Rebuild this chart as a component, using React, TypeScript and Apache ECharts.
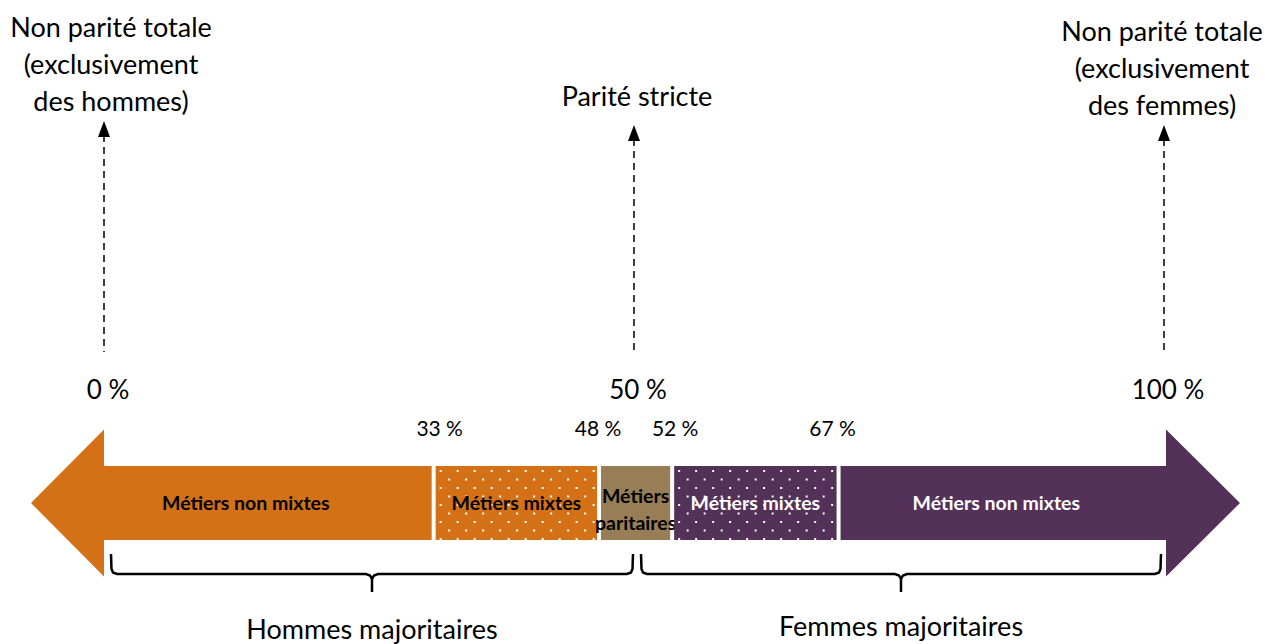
import React, { useEffect, useRef } from "react";
import * as echarts from "echarts";

// Segment labels, drawn edges (in % of the 0–100 scale), colours
const categories = ["Métiers non mixtes", "Métiers mixtes", "Métiers\nparitaires", "Métiers mixtes", "Métiers non mixtes"];
const segmentBounds = [0, 31.1, 46.7, 53.6, 69.3, 100];
const segmentColors = ["#D47116", "#D47116", "#977E57", "#533158", "#533158"];
const segmentDotted = [false, true, false, true, false];
const labelColors = ["#000000", "#000000", "#000000", "#ffffff", "#ffffff"];

// Threshold labels above the bar (placed on the inner edges)
const thresholdLabels = ["33 %", "48 %", "52 %", "67 %"];

// Reference marks
const refTicks = [0, 50, 100];
const refTickLabels = ["0 %", "50 %", "100 %"];
const refTitles = [
  "Non parité totale\n(exclusivement\ndes hommes)",
  "Parité stricte",
  "Non parité totale\n(exclusivement\ndes femmes)",
];

// Braces
const groupNames = ["Hommes majoritaires", "Femmes majoritaires"];
const groupStart = [0, 50];
const groupEnd = [50, 100];

const FONT = "Lato";

export default function App() {
  const ref = useRef<HTMLDivElement>(null);
  useEffect(() => {
    if (!ref.current) return;
    const chart = echarts.init(ref.current, undefined, { renderer: "svg" });
    const midY = 503;
    const shaftH = 37;
    const headH = 73.5;

    const segData = categories.map((_, i) => [segmentBounds[i], segmentBounds[i + 1]]);
    const labelDx = [-22, 0, 0, 0, -6];
    const thresholdDx = [6, -1, 3, -6];

    const option: any = {
      animation: false,
      grid: { left: 104, right: 104, top: 0, bottom: 0 },
      xAxis: { type: "value", min: 0, max: 100, show: false },
      yAxis: { type: "value", min: 0, max: 1, show: false },
      series: [
        {
          type: "custom",
          name: "segments",
          data: segData,
          encode: { x: [0, 1] },
          renderItem: (params: any, api: any) => {
            const i = params.dataIndex;
            const n = categories.length;
            const gap = 2;
            let x0 = api.coord([api.value(0), 0])[0];
            let x1 = api.coord([api.value(1), 0])[0];
            const children: any[] = [];
            const y0 = midY - shaftH;
            const y1 = midY + shaftH;
            if (i === 0) {
              x1 -= gap;
              children.push({
                type: "polygon",
                shape: {
                  points: [
                    [x1, y0], [x0, y0], [x0, midY - headH], [x0 - 73, midY],
                    [x0, midY + headH], [x0, y1], [x1, y1],
                  ],
                },
                style: { fill: segmentColors[i] },
              });
            } else if (i === n - 1) {
              x0 += gap;
              children.push({
                type: "polygon",
                shape: {
                  points: [
                    [x0, y0], [x1 + 2, y0], [x1 + 2, midY - headH], [x1 + 76, midY],
                    [x1 + 2, midY + headH], [x1 + 2, y1], [x0, y1],
                  ],
                },
                style: { fill: segmentColors[i] },
              });
            } else {
              x0 += gap;
              x1 -= gap;
              children.push({
                type: "rect",
                shape: { x: x0, y: y0, width: x1 - x0, height: y1 - y0 },
                style: { fill: segmentColors[i] },
              });
              if (segmentDotted[i]) {
                let row = 0;
                for (let yy = y0 + 4; yy < y1 - 1; yy += 8.5) {
                  const off = row % 2 === 0 ? 4 : 12.5;
                  for (let xx = x0 + off; xx < x1 - 1; xx += 17) {
                    children.push({
                      type: "rect",
                      shape: { x: xx, y: yy, width: 2, height: 2 },
                      style: { fill: "#ffffff" },
                    });
                  }
                  row++;
                }
              }
            }
            const cx = (x0 + x1) / 2 + labelDx[i];
            const twoLine = categories[i].indexOf("\n") >= 0;
            children.push({
              type: "text",
              x: cx,
              y: twoLine ? 509 : 502,
              style: {
                text: categories[i],
                fill: labelColors[i],
                font: `bold 19.5px ${FONT}`,
                align: "center",
                verticalAlign: "middle",
                lineHeight: 27,
              },
            });
            return { type: "group", children };
          },
        },
        {
          type: "custom",
          name: "thresholds",
          data: thresholdLabels.map((_, i) => [segmentBounds[i + 1]]),
          encode: { x: 0 },
          renderItem: (params: any, api: any) => {
            const x = api.coord([api.value(0), 0])[0];
            return {
              type: "text",
              x: x + thresholdDx[params.dataIndex],
              y: 427,
              style: {
                text: thresholdLabels[params.dataIndex],
                fill: "#000",
                font: `21px ${FONT}`,
                align: "center",
                verticalAlign: "middle",
              },
            };
          },
        },
        {
          type: "custom",
          name: "refs",
          data: refTicks.map((v) => [v]),
          encode: { x: 0 },
          renderItem: (params: any, api: any) => {
            const i = params.dataIndex;
            const x = api.coord([api.value(0), 0])[0];
            const tipY = i === 0 ? 121 : 125;
            const lastLineCenter = [100, 95, 104][i];
            const nLines = refTitles[i].split("\n").length;
            const lh = 37;
            const centerY = lastLineCenter - ((nLines - 1) * lh) / 2;
            const tx = [x + 7, x + 3, x - 2][i];
            return {
              type: "group",
              children: [
                {
                  type: "line",
                  shape: { x1: x, y1: tipY + 14, x2: x, y2: 352 },
                  style: { stroke: "#000", lineWidth: 1.5, lineDash: [7, 5] },
                },
                {
                  type: "polygon",
                  shape: { points: [[x, tipY], [x - 6, tipY + 16], [x + 6, tipY + 16]] },
                  style: { fill: "#000" },
                },
                {
                  type: "text",
                  x: x + 4,
                  y: 389,
                  style: {
                    text: refTickLabels[i],
                    fill: "#000",
                    font: `26px ${FONT}`,
                    align: "center",
                    verticalAlign: "middle",
                  },
                },
                {
                  type: "text",
                  x: tx,
                  y: centerY,
                  style: {
                    text: refTitles[i],
                    fill: "#000",
                    font: `27px ${FONT}`,
                    align: "center",
                    verticalAlign: "middle",
                    lineHeight: lh,
                  },
                },
              ],
            };
          },
        },
        {
          type: "custom",
          name: "braces",
          data: groupNames.map((_, i) => [groupStart[i], groupEnd[i]]),
          encode: { x: [0, 1] },
          renderItem: (params: any, api: any) => {
            const i = params.dataIndex;
            const a = api.coord([api.value(0), 0])[0] + 7;
            const b = api.coord([api.value(1), 0])[0] - (i === 0 ? 1 : 3);
            const m = (a + b) / 2;
            const top = 554;
            const ly = 574;
            const bot = 592;
            return {
              type: "group",
              children: [
                {
                  type: "polyline",
                  shape: {
                    points: [
                      [a, top], [a + 0.5, ly - 5], [a + 2, ly - 1.5], [a + 6, ly],
                      [m - 6, ly], [m - 2, ly + 1.5], [m, ly + 5], [m, bot],
                    ],
                  },
                  style: { stroke: "#000", lineWidth: 2.5, fill: null },
                },
                {
                  type: "polyline",
                  shape: {
                    points: [
                      [b, top], [b - 0.5, ly - 5], [b - 2, ly - 1.5], [b - 6, ly],
                      [m + 6, ly], [m + 2, ly + 1.5], [m, ly + 5],
                    ],
                  },
                  style: { stroke: "#000", lineWidth: 2.5, fill: null },
                },
                {
                  type: "text",
                  x: m,
                  y: i === 0 ? 628 : 625,
                  style: {
                    text: groupNames[i],
                    fill: "#000",
                    font: `27px ${FONT}`,
                    align: "center",
                    verticalAlign: "middle",
                  },
                },
              ],
            };
          },
        },
      ],
    };
    chart.setOption(option);
    return () => chart.dispose();
  }, []);
  return (
    <div
      ref={ref}
      style={{ position: "absolute", left: 0, top: 0, width: 1268, height: 644, background: "#fff" }}
    />
  );
}
